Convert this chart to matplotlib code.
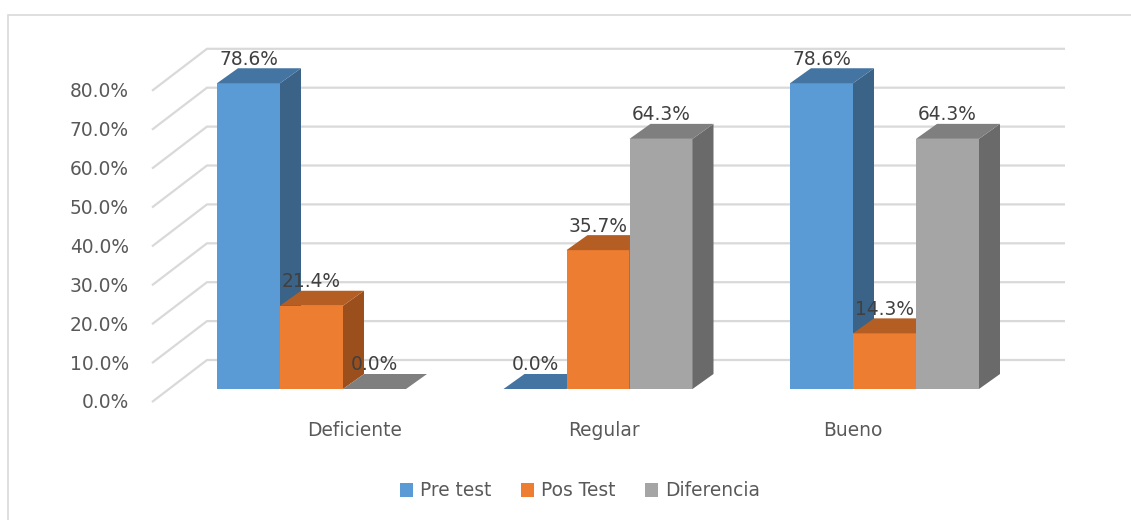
import matplotlib
matplotlib.use("Agg")
import matplotlib.pyplot as plt
from matplotlib.patches import Polygon, Rectangle, Patch

categories = ["Deficiente", "Regular", "Bueno"]
series_names = ["Pre test", "Pos Test", "Diferencia"]
pre_test = [78.6, 0.0, 78.6]
pos_test = [21.4, 35.7, 14.3]
diferencia = [0.0, 64.3, 64.3]
y_ticks = [0, 10, 20, 30, 40, 50, 60, 70, 80]

series = [pre_test, pos_test, diferencia]
front_cols = ["#5b9bd5", "#ed7d31", "#a5a5a5"]
top_cols = ["#4474a2", "#b45e23", "#7f7f7f"]
side_cols = ["#3b6387", "#9a4f1c", "#6a6a6a"]

W, H = 1131, 520
fig = plt.figure(figsize=(W / 100, H / 100), dpi=100)
ax = fig.add_axes([0, 0, 1, 1])
S = 3.89           # pixels per percent
BASE = 389         # pixel row of the bar base
ax.set_xlim(0, W)
ax.set_ylim((BASE - H) / S, BASE / S)
ax.axis("off")

font = "DejaVu Sans"
txt_col = "#595959"
FS = 13.4

# outer border
ax.add_patch(Rectangle((8, (BASE - 530) / S), 1200, (530 - 15) / S,
                       fill=False, ec="#d9d9d9", lw=1.2, zorder=0))

# gridlines (back wall + floor diagonal)
for t in y_ticks:
    v_left = t - 13 / S
    v_back = t + 29 / S
    ax.plot([152, 207, 1065], [v_left, v_back, v_back], color="#d9d9d9",
            lw=1.6, zorder=1, solid_capstyle="butt")
    ax.text(129, t - 14 / S, f"{t:.1f}%", ha="right", va="center",
            fontsize=FS, color=txt_col, family=font)

# bars
bw = 63
group_step = 286.5
dx, dv = 21, 15 / S
for i, cat in enumerate(categories):
    gx = 217 + i * group_step
    for j, vals in enumerate(series):
        v = vals[i]
        x0 = gx + j * bw
        x1 = x0 + bw
        z = 3 + i * 3 + j * 0.1
        if v > 0:
            ax.bar(x0, v, width=bw, align="edge", color=front_cols[j],
                   edgecolor="none", zorder=z)
            ax.add_patch(Polygon([(x1, 0), (x1 + dx, dv), (x1 + dx, v + dv), (x1, v)],
                                 closed=True, fc=side_cols[j], ec="none", zorder=z))
        ax.add_patch(Polygon([(x0, v), (x0 + dx, v + dv), (x1 + dx, v + dv), (x1, v)],
                             closed=True, fc=top_cols[j], ec="none", zorder=z))
        ax.text(x0 + bw / 2, v + 24 / S, f"{v:.1f}%", ha="center", va="center",
                fontsize=FS, color="#404040", family=font, zorder=20)
    ax.text(355 + i * 249, (BASE - 430) / S, cat, ha="center", va="center",
            fontsize=FS, color=txt_col, family=font)

handles = [Patch(facecolor=c, edgecolor="none", label=n) for c, n in zip(front_cols, series_names)]
leg = fig.legend(handles=handles, loc="center", bbox_to_anchor=(580 / W, 1 - 491 / H),
                 ncol=3, frameon=False, handlelength=0.7, handleheight=0.7,
                 handletextpad=0.4, columnspacing=1.55,
                 prop={"family": font, "size": FS})
for t in leg.get_texts():
    t.set_color(txt_col)

fig.savefig("out.png", dpi=100)
